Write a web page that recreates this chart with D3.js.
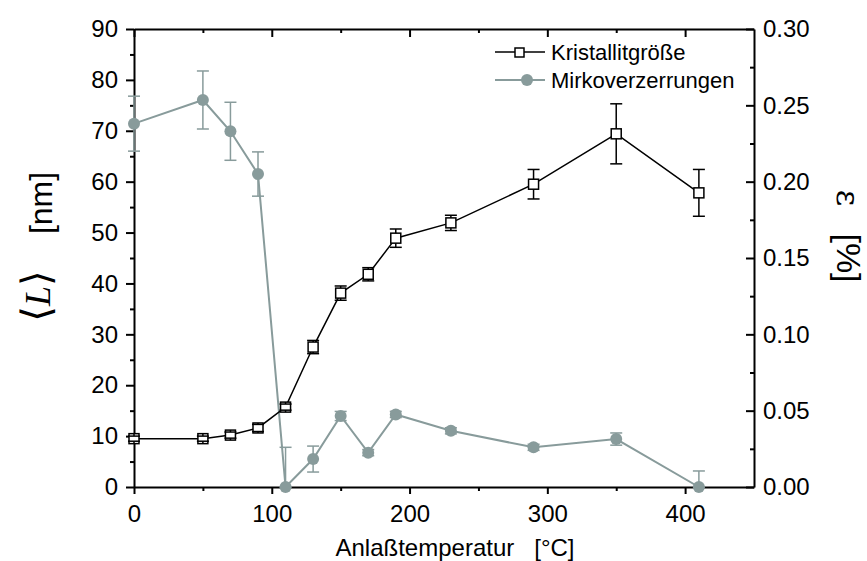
<!DOCTYPE html>
<html>
<head>
<meta charset="utf-8">
<script src="https://cdn.jsdelivr.net/npm/d3@7"></script>
<style>
  body { margin: 0; background: #fff; }
  svg { font-family: "Liberation Sans", Arial, sans-serif; }
  .axis path, .axis line { stroke: #000; stroke-width: 2; }
  .axis text { font-size: 24px; fill: #000; font-family: "Liberation Sans", Arial, sans-serif; }
</style>
</head>
<body>
<div id="chart"></div>
<script>
// Anlaßtemperatur in °C
var temps = [0, 50, 70, 90, 110, 130, 150, 170, 190, 230, 290, 350, 410];

// Kristallitgröße <L> in nm, mit Fehler
var sizeL   = [9.5, 9.5, 10.2, 11.6, 15.7, 27.5, 38.1, 41.8, 48.9, 51.9, 59.5, 69.4, 57.8];
var sizeErr = [0.5, 0.5, 0.6, 0.7, 0.6, 1.3, 1.4, 1.3, 1.8, 1.5, 2.9, 5.9, 4.6];

// Mikroverzerrungen epsilon in %, mit Fehler
var strain    = [0.238, 0.2535, 0.233, 0.205, 0.0, 0.0183, 0.0465, 0.0225, 0.0475, 0.0368, 0.026, 0.0314, 0.0];
var strainErr = [0.018, 0.019, 0.019, 0.0145, 0.026, 0.0085, 0.003, 0.002, 0.002, 0.002, 0.002, 0.004, 0.0105];

var xTicks = [0, 100, 200, 300, 400];
var yTicksL = [0, 10, 20, 30, 40, 50, 60, 70, 80, 90];
var yTicksR = [0, 0.05, 0.10, 0.15, 0.20, 0.25, 0.30];

var grey = "#889b9b";

var svg = d3.select("#chart").append("svg")
    .attr("width", 867)
    .attr("height", 561);

var x = d3.scaleLinear().domain([0, 450]).range([134, 754]);
var yL = d3.scaleLinear().domain([0, 90]).range([487, 29]);
var yR = d3.scaleLinear().domain([0, 0.3]).range([487, 29]);

// minor ticks (no labels)
svg.append("g").attr("class", "axis")
    .attr("transform", "translate(134,0)")
    .call(d3.axisLeft(yL).tickValues(d3.range(5, 90, 10)).tickSize(4).tickFormat(""))
    .select(".domain").remove();
svg.append("g").attr("class", "axis")
    .attr("transform", "translate(0,487)")
    .call(d3.axisBottom(x).tickValues([50, 150, 250, 350]).tickSize(4).tickFormat(""))
    .select(".domain").remove();
svg.append("g").attr("class", "axis")
    .attr("transform", "translate(0,29)")
    .call(d3.axisBottom(x).tickValues([50, 150, 250, 350]).tickSize(4).tickFormat(""))
    .select(".domain").remove();
svg.append("g").attr("class", "axis")
    .attr("transform", "translate(754,0)")
    .call(d3.axisLeft(yR).tickValues(d3.range(0.025, 0.3, 0.05)).tickSize(4).tickFormat(""))
    .select(".domain").remove();

// main axes
svg.append("g").attr("class", "axis")
    .attr("transform", "translate(134,0)")
    .call(d3.axisLeft(yL).tickValues(yTicksL).tickSize(8).tickSizeOuter(0).tickPadding(8));

svg.append("g").attr("class", "axis")
    .attr("transform", "translate(0,487)")
    .call(d3.axisBottom(x).tickValues(xTicks).tickSize(7).tickSizeOuter(0).tickPadding(11));

svg.append("g").attr("class", "axis")
    .attr("transform", "translate(0,29)")
    .call(d3.axisBottom(x).tickValues(xTicks).tickSize(8).tickSizeOuter(0).tickFormat(""));

svg.append("g").attr("class", "axis")
    .attr("transform", "translate(754,0)")
    .call(d3.axisRight(yR).tickValues(yTicksR).tickSizeInner(-8).tickSizeOuter(0)
        .tickPadding(9).tickFormat(d3.format(".2f")));

// axis titles
svg.append("text")
    .attr("x", 455).attr("y", 556)
    .attr("text-anchor", "middle")
    .style("font-size", "24px")
    .style("white-space", "pre")
    .text("Anlaßtemperatur   [°C]");

// <L> and [nm], rotated
var leftSym = svg.append("text")
    .attr("transform", "translate(50,296) rotate(-90)")
    .attr("text-anchor", "middle");
leftSym.append("tspan")
    .style("font-family", "'DejaVu Serif', serif")
    .style("font-size", "40px")
    .text("⟨");
leftSym.append("tspan")
    .style("font-family", "'Liberation Serif', serif")
    .style("font-style", "italic")
    .style("font-size", "36px")
    .text("L");
leftSym.append("tspan")
    .style("font-family", "'DejaVu Serif', serif")
    .style("font-size", "40px")
    .text("⟩");

svg.append("text")
    .attr("transform", "translate(52,203) rotate(-90)")
    .attr("text-anchor", "middle")
    .style("font-size", "32px")
    .text("[nm]");

// epsilon and [%], rotated the other way
svg.append("text")
    .attr("transform", "translate(837,198) rotate(90)")
    .attr("text-anchor", "middle")
    .style("font-family", "'DejaVu Serif', serif")
    .style("font-size", "32px")
    .text("ε");
svg.append("text")
    .attr("transform", "translate(837,258) rotate(90)")
    .attr("text-anchor", "middle")
    .style("font-size", "34px")
    .text("[%]");

// Mikroverzerrungen
var gStrain = svg.append("g");
gStrain.append("path")
    .datum(temps)
    .attr("fill", "none")
    .attr("stroke", grey)
    .attr("stroke-width", 2)
    .attr("d", d3.line().x(d => x(d)).y((d, i) => yR(strain[i])));

temps.forEach(function(t, i) {
    var cx = x(t), lo = yR(Math.max(0, strain[i] - strainErr[i])), hi = yR(strain[i] + strainErr[i]);
    gStrain.append("line").attr("x1", cx).attr("x2", cx).attr("y1", lo).attr("y2", hi)
        .attr("stroke", grey).attr("stroke-width", 1.5);
    [lo, hi].forEach(function(yy) {
        gStrain.append("line").attr("x1", cx - 6).attr("x2", cx + 6).attr("y1", yy).attr("y2", yy)
            .attr("stroke", grey).attr("stroke-width", 1.5);
    });
});
gStrain.selectAll("circle")
    .data(temps)
    .enter().append("circle")
    .attr("cx", d => x(d))
    .attr("cy", (d, i) => yR(strain[i]))
    .attr("r", 6)
    .attr("fill", grey);

// Kristallitgröße
var gSize = svg.append("g");
gSize.append("path")
    .datum(temps)
    .attr("fill", "none")
    .attr("stroke", "#000")
    .attr("stroke-width", 1.5)
    .attr("d", d3.line().x(d => x(d)).y((d, i) => yL(sizeL[i])));

gSize.selectAll("rect")
    .data(temps)
    .enter().append("rect")
    .attr("x", d => x(d) - 5)
    .attr("y", (d, i) => yL(sizeL[i]) - 5)
    .attr("width", 10)
    .attr("height", 10)
    .attr("fill", "#fff")
    .attr("stroke", "#000")
    .attr("stroke-width", 1.5);

temps.forEach(function(t, i) {
    var cx = x(t), lo = yL(sizeL[i] - sizeErr[i]), hi = yL(sizeL[i] + sizeErr[i]);
    gSize.append("line").attr("x1", cx).attr("x2", cx).attr("y1", lo).attr("y2", yL(sizeL[i]) + 5)
        .attr("stroke", "#000").attr("stroke-width", 1.5);
    gSize.append("line").attr("x1", cx).attr("x2", cx).attr("y1", hi).attr("y2", yL(sizeL[i]) - 5)
        .attr("stroke", "#000").attr("stroke-width", 1.5);
    [lo, hi].forEach(function(yy) {
        gSize.append("line").attr("x1", cx - 6).attr("x2", cx + 6).attr("y1", yy).attr("y2", yy)
            .attr("stroke", "#000").attr("stroke-width", 1.5);
    });
});

// legend
var legend = svg.append("g").attr("transform", "translate(495,0)");
legend.append("line").attr("x1", 0).attr("x2", 50).attr("y1", 52).attr("y2", 52)
    .attr("stroke", "#000").attr("stroke-width", 1.5);
legend.append("rect").attr("x", 20).attr("y", 48).attr("width", 9).attr("height", 9)
    .attr("fill", "#fff").attr("stroke", "#000").attr("stroke-width", 1.5);
legend.append("text").attr("x", 56).attr("y", 60).style("font-size", "22px").text("Kristallitgröße");

legend.append("line").attr("x1", 0).attr("x2", 50).attr("y1", 80).attr("y2", 80)
    .attr("stroke", grey).attr("stroke-width", 2);
legend.append("circle").attr("cx", 32).attr("cy", 80).attr("r", 6).attr("fill", grey);
legend.append("text").attr("x", 56).attr("y", 88).style("font-size", "22px").text("Mirkoverzerrungen");
</script>
</body>
</html>
